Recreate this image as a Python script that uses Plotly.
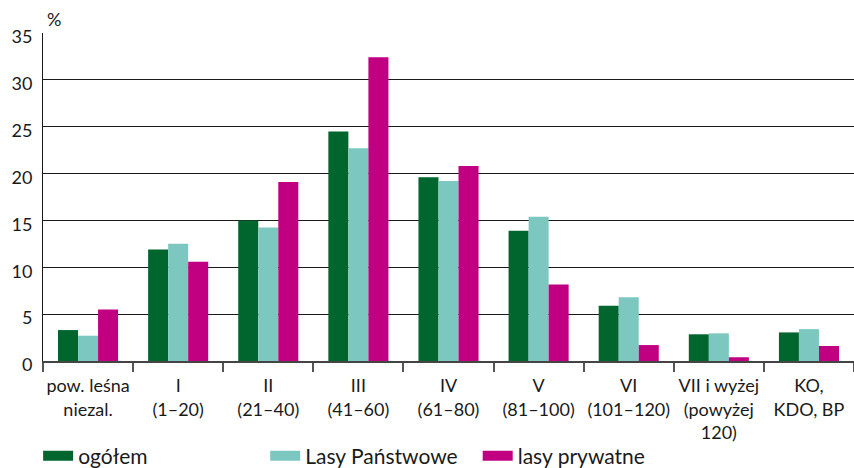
import plotly.graph_objects as go

categories = ["pow. leśna<br>niezal.", "I<br>(1–20)", "II<br>(21–40)", "III<br>(41–60)",
              "IV<br>(61–80)", "V<br>(81–100)", "VI<br>(101–120)",
              "VII i wyżej<br>(powyżej<br>120)", "KO,<br>KDO, BP"]
ogolem = [3.3, 11.9, 15.0, 24.5, 19.6, 13.9, 5.9, 2.85, 3.05]
lasy_panstwowe = [2.7, 12.5, 14.25, 22.7, 19.2, 15.4, 6.8, 2.95, 3.4]
lasy_prywatne = [5.5, 10.6, 19.1, 32.4, 20.8, 8.15, 1.7, 0.4, 1.6]

series = [
    ("ogółem", ogolem, "rgb(0, 102, 46)", "legend", -0.006),
    ("Lasy Państwowe", lasy_panstwowe, "rgb(124, 200, 192)", "legend2", 0.274),
    ("lasy prywatne", lasy_prywatne, "rgb(192, 0, 128)", "legend3", 0.536),
]

fig = go.Figure()
layout_legends = {}
for name, values, color, leg, lx in series:
    fig.add_bar(x=categories, y=values, name=name, marker=dict(color=color, line=dict(width=0)),
                showlegend=False)
    # legend swatch as a wide line entry
    fig.add_scatter(x=[None], y=[None], mode="lines", name=name,
                    line=dict(color=color, width=11), legend=leg)
    layout_legends[leg] = dict(x=lx, y=0.069, yref="container", xanchor="left", yanchor="top",
                               orientation="h", bgcolor="rgba(0,0,0,0)",
                               font=dict(family="Lato", size=21, color="#1a1a1a"))

fig.update_layout(
    width=854, height=468,
    margin=dict(l=43, r=0, t=33, b=107, autoexpand=False),
    plot_bgcolor="white", paper_bgcolor="white",
    bargap=1 / 3, bargroupgap=0,
    font=dict(family="Lato", color="#1a1a1a"),
    **layout_legends,
)
fig.update_xaxes(
    type="category", showgrid=False, automargin=False, tickangle=0,
    showline=True, linecolor="#444", linewidth=1.5,
    ticks="outside", tickson="boundaries", ticklen=9, tickcolor="#555", tickwidth=1.5,
    tickfont=dict(family="Lato", size=18, color="#1a1a1a"),
    ticklabelstandoff=8,
)
fig.update_yaxes(
    range=[0, 35], dtick=5, tick0=0, automargin=False,
    showgrid=True, gridcolor="#1a1a1a", gridwidth=1.2,
    showline=True, linecolor="#1a1a1a", linewidth=1,
    ticks="", zeroline=False,
    tickfont=dict(family="Lato", size=18, color="#1a1a1a"),
    ticklabelstandoff=6, ticklabelshift=4,
)
fig.add_annotation(text="%", xref="paper", yref="paper", x=0.002, y=1.0, yshift=1,
                   xanchor="left", yanchor="bottom", showarrow=False,
                   font=dict(family="Lato", size=18, color="#1a1a1a"))

fig.write_html("out.html", config={"displayModeBar": False},
               post_script="document.body.style.margin='0';")
